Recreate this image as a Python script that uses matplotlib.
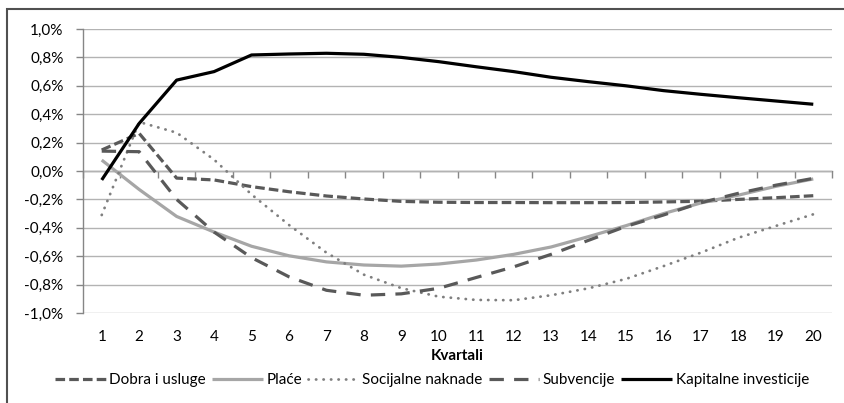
import matplotlib
matplotlib.use("Agg")
import matplotlib.pyplot as plt
from matplotlib.patches import Rectangle
from matplotlib.ticker import FuncFormatter, NullFormatter

quarters = list(range(1, 21))
dobra = [0.148, 0.265, -0.05, -0.063, -0.11, -0.146, -0.176, -0.197, -0.214, -0.22,
         -0.222, -0.222, -0.223, -0.223, -0.222, -0.218, -0.213, -0.2, -0.188, -0.174]
place = [0.077, -0.13, -0.32, -0.43, -0.53, -0.597, -0.64, -0.662, -0.67, -0.655,
         -0.627, -0.587, -0.535, -0.462, -0.385, -0.3, -0.225, -0.17, -0.108, -0.056]
socijalne = [-0.31, 0.345, 0.27, 0.08, -0.165, -0.38, -0.575, -0.73, -0.825, -0.885,
             -0.908, -0.91, -0.875, -0.826, -0.76, -0.67, -0.575, -0.47, -0.387, -0.305]
subvencije = [0.14, 0.136, -0.2, -0.43, -0.61, -0.745, -0.84, -0.875, -0.865, -0.826,
              -0.75, -0.675, -0.587, -0.488, -0.39, -0.31, -0.223, -0.157, -0.1, -0.052]
kapitalne = [-0.063, 0.335, 0.64, 0.70, 0.817, 0.824, 0.829, 0.822, 0.80, 0.77,
             0.734, 0.70, 0.66, 0.629, 0.60, 0.566, 0.54, 0.516, 0.493, 0.47]
series_names = ["Dobra i usluge", "Plaće", "Socijalne naknade", "Subvencije", "Kapitalne investicije"]
y_ticks = [-1.0, -0.8, -0.6, -0.4, -0.2, 0.0, 0.2, 0.4, 0.6, 0.8, 1.0]
x_label = "Kvartali"

plt.rcParams['font.family'] = ['Lato', 'DejaVu Sans']
FS = 11

W, H = 845, 403
fig = plt.figure(figsize=(W / 100, H / 100), dpi=100)
ax = fig.add_axes([83 / W, 1 - 313 / H, (832 - 83) / W, (313 - 29) / H])

lw = 2.3
styles = [
    dict(color="#595959", lw=lw, linestyle=(0, (3, 1.3)), dash_capstyle="butt"),
    dict(color="#a6a6a6", lw=lw, linestyle="-"),
    dict(color="#7f7f7f", lw=2.0, linestyle=(0, (0.1, 2.6)), dash_capstyle="round"),
    dict(color="#595959", lw=lw, linestyle=(0, (4.5, 3.2)), dash_capstyle="butt"),
    dict(color="#000000", lw=lw, linestyle="-"),
]
data = [dobra, place, socijalne, subvencije, kapitalne]
for name, vals, st in zip(series_names, data, styles):
    ax.plot(quarters, vals, label=name, solid_capstyle="butt", **st)

ax.set_xlim(0.5, 20.5)
ax.set_ylim(-1.0, 1.0)
ax.set_yticks(y_ticks)
ax.yaxis.set_major_formatter(FuncFormatter(lambda v, p: f"{v:.1f}%".replace(".", ",").replace("-0,0", "0,0")))
ax.grid(axis="y", color="#b3b3b3", lw=1.0)
ax.set_axisbelow(True)
for s in ["top", "right", "bottom"]:
    ax.spines[s].set_visible(False)
ax.spines["left"].set_color("#868686")
ax.spines["left"].set_linewidth(1.0)
ax.tick_params(axis="y", length=5, width=1, color="#868686", pad=9, labelsize=FS, labelcolor="#000000")

ax.set_xticks(quarters)
ax.tick_params(axis="x", length=0, pad=12, labelsize=FS)
ax.set_xlabel(x_label, fontsize=FS, fontweight="bold", labelpad=4)

# category axis line at zero with boundary tick marks (pointing down)
sec = ax.secondary_xaxis(0.5)
sec.set_xticks([q - 0.5 for q in quarters] + [20.5])
sec.xaxis.set_major_formatter(NullFormatter())
sec.xaxis.set_ticks_position("bottom")
sec.tick_params(axis="x", length=5, width=1, color="#868686", direction="out",
                labelbottom=False, labeltop=False)
for sp in sec.spines.values():
    sp.set_color("#868686")
    sp.set_linewidth(1.0)

leg = fig.legend(loc="center", bbox_to_anchor=(432 / W, 1 - 380 / H), ncol=5, frameon=False,
                 fontsize=FS, handlelength=3.3, handletextpad=0.25, columnspacing=0.4,
                 borderaxespad=0)

fig.add_artist(Rectangle((7.5 / W, -0.05), 1.2, 1 - 9.5 / H + 0.05, transform=fig.transFigure,
                         fill=False, edgecolor="#505050", lw=1.5, clip_on=False))

fig.savefig("out.png", dpi=100)
